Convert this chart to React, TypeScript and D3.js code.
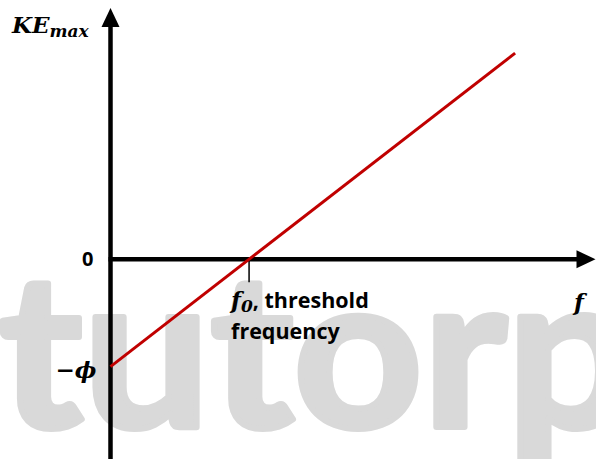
import * as d3 from "d3";

// frequency (f) and KE values for the photoelectric line, in units of f0 / phi
const lineF = [0, 2.92];
const lineKE = [-1, 1.92];
const f0 = 1;
const phi = 1;
const xDomain = [0, 3.5];
const yDomain = [-1.86, 2.34];
const watermark = "tutorp";

const W = 596;
const H = 459;

export default function App() {
  const x = d3.scaleLinear().domain(xDomain).range([110.5, 595.5]);
  const y = d3.scaleLinear().domain(yDomain).range([H, 8]);

  const pts: [number, number][] = lineF.map((f, i) => [x(f), y(lineKE[i])]);
  const line = d3.line();

  const x0 = x(0);
  const y0 = y(0);
  const xEnd = x(xDomain[1]);
  const yTop = y(yDomain[1]);
  const head = 19;
  const half = 9;

  const serif = "'DejaVu Serif', serif";
  const sans = "'Open Sans', sans-serif";

  return (
    <div style={{ position: "absolute", left: 0, top: 0 }}>
      <svg width={W} height={H} style={{ display: "block", background: "#fff" }}>
        {/* watermark */}
        <text
          x={-1}
          y={427}
          fill="#d9d9d9"
          stroke="#d9d9d9"
          strokeWidth={6}
          strokeLinejoin="round"
          fontFamily="Lato, sans-serif"
          fontWeight={700}
          fontSize={214}
          textLength={636}
          lengthAdjust="spacingAndGlyphs"
        >
          {watermark}
        </text>

        {/* y axis */}
        <line x1={x0} x2={x0} y1={H} y2={yTop + head - 1} stroke="#000" strokeWidth={4.5} />
        <path
          d={`M${x0},${yTop} L${x0 + half},${yTop + head} L${x0 - half},${yTop + head} Z`}
          fill="#000"
        />

        {/* x axis */}
        <line x1={x0 - 2} x2={xEnd - head + 1} y1={y0} y2={y0} stroke="#000" strokeWidth={4.5} />
        <path
          d={`M${xEnd},${y0} L${xEnd - head},${y0 - half} L${xEnd - head},${y0 + half} Z`}
          fill="#000"
        />

        {/* threshold tick */}
        <line x1={x(f0)} x2={x(f0)} y1={y0} y2={y0 + 23} stroke="#000" strokeWidth={1.5} />

        {/* KE line */}
        <path d={line(pts) ?? ""} fill="none" stroke="#c00000" strokeWidth={3} />

        {/* labels */}
        <text x={12} y={33} fontFamily={serif} fontStyle="italic" fontWeight={700} fontSize={23}>
          KE
          <tspan fontSize={17} dy={4}>max</tspan>
        </text>
        <text x={x0 - 17} y={y0 + 7} textAnchor="end" fontFamily={sans} fontWeight={700} fontSize={20}>
          0
        </text>
        <text x={x0 - 14} y={y(-phi) + 11} textAnchor="end" fontFamily={serif} fontStyle="italic" fontWeight={700} fontSize={23}>
          −ϕ
        </text>
        <text x={x(f0) - 18} y={308} fontFamily={serif} fontStyle="italic" fontWeight={700} fontSize={23}>
          f
          <tspan fontSize={17} dy={4}>0</tspan>
          <tspan fontFamily={sans} fontStyle="normal" fontSize={21.5} dy={-4}>, threshold</tspan>
        </text>
        <text x={x(f0) - 18} y={339} fontFamily={sans} fontWeight={700} fontSize={21.5}>
          frequency
        </text>
        <text x={574} y={310} fontFamily={serif} fontStyle="italic" fontWeight={700} fontSize={23}>
          f
        </text>
      </svg>
    </div>
  );
}
